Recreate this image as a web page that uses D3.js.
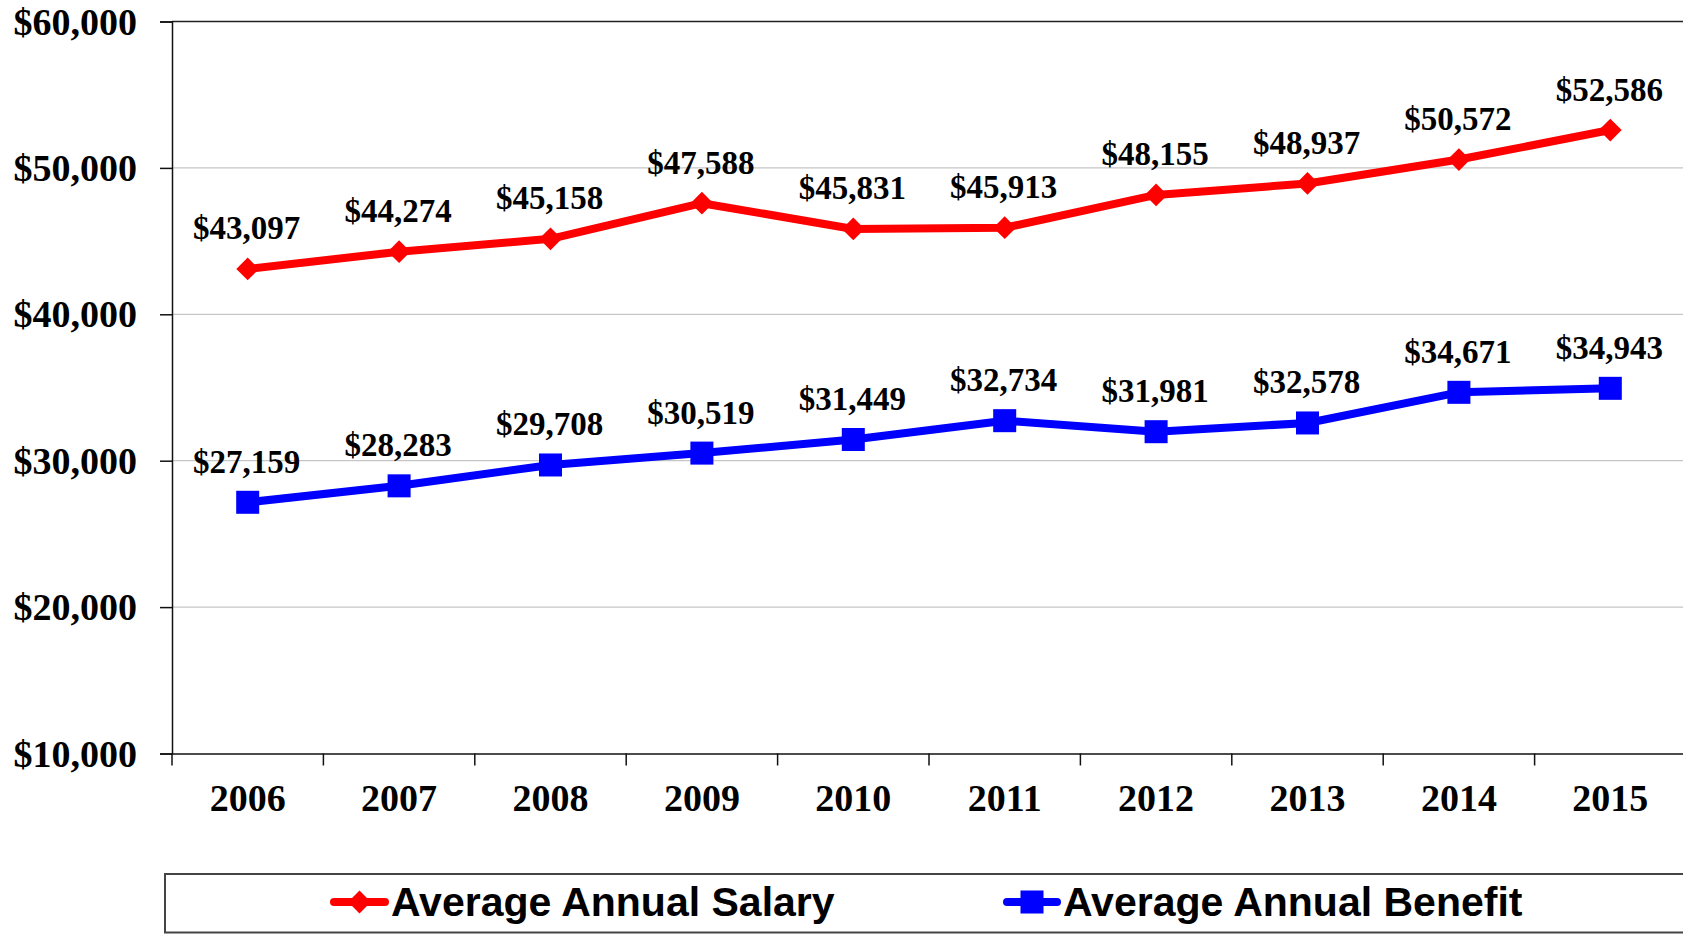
<!DOCTYPE html>
<html>
<head>
<meta charset="utf-8">
<script src="https://cdn.jsdelivr.net/npm/d3@7"></script>
<style>
  html, body { margin: 0; padding: 0; background: #fff; overflow: hidden; }
  svg { display: block; }
  .serif { font-family: "Liberation Serif", "Times New Roman", serif; font-weight: bold; }
</style>
</head>
<body>
<script>
  var years = ['2006', '2007', '2008', '2009', '2010', '2011', '2012', '2013', '2014', '2015'];
  var salary = [43097, 44274, 45158, 47588, 45831, 45913, 48155, 48937, 50572, 52586];
  var benefit = [27159, 28283, 29708, 30519, 31449, 32734, 31981, 32578, 34671, 34943];
  var yTicks = [10000, 20000, 30000, 40000, 50000, 60000];
  var seriesNames = ['Average Annual Salary', 'Average Annual Benefit'];

  var width = 1683, height = 934;
  var margin = { left: 172, top: 21.5 };
  var plotW = 1514, plotH = 732;

  var svg = d3.select('body').append('svg')
    .attr('width', width)
    .attr('height', height);

  var g = svg.append('g')
    .attr('transform', 'translate(' + margin.left + ',' + margin.top + ')');

  var x = d3.scaleBand().domain(years).range([0, plotW]);
  var y = d3.scaleLinear().domain([10000, 60000]).range([plotH, 0]);
  var fmt = d3.format('$,');

  // gridlines
  g.selectAll('line.grid')
    .data(yTicks.slice(1, -1))
    .enter().append('line')
    .attr('class', 'grid')
    .attr('x1', 0).attr('x2', plotW)
    .attr('y1', function(d) { return y(d); })
    .attr('y2', function(d) { return y(d); })
    .attr('stroke', '#c6c6c6')
    .attr('stroke-width', 1.2);

  // top border
  g.append('line')
    .attr('x1', 0).attr('x2', plotW)
    .attr('y1', 0).attr('y2', 0)
    .attr('stroke', '#222').attr('stroke-width', 1.5);

  // y axis
  var yAxis = g.append('g')
    .call(d3.axisLeft(y).tickValues(yTicks).tickSize(12).tickPadding(23).tickFormat(fmt));
  yAxis.select('.domain').attr('stroke', '#111').attr('stroke-width', 1.5);
  yAxis.selectAll('.tick line').attr('stroke', '#111').attr('stroke-width', 1.5);
  yAxis.selectAll('text')
    .attr('class', 'serif')
    .attr('font-size', 38)
    .attr('fill', '#000')
    .attr('dy', '0.33em');

  // x axis: labels centered in bands, ticks on band edges
  var xAxis = g.append('g')
    .attr('transform', 'translate(0,' + plotH + ')')
    .call(d3.axisBottom(x).tickSize(0).tickPadding(0));
  xAxis.select('.domain').attr('stroke', '#111').attr('stroke-width', 1.5);
  xAxis.selectAll('text')
    .attr('class', 'serif')
    .attr('font-size', 38)
    .attr('fill', '#000')
    .attr('dy', null)
    .attr('y', 57.5);

  var edges = years.map(function(d) { return x(d); }).concat([plotW]);
  xAxis.selectAll('line.edge')
    .data(edges)
    .enter().append('line')
    .attr('class', 'edge')
    .attr('x1', function(d) { return d; })
    .attr('x2', function(d) { return d; })
    .attr('y1', 0).attr('y2', 12)
    .attr('stroke', '#111').attr('stroke-width', 1.5);

  var cx = function(d, i) { return x(years[i]) + x.bandwidth() / 2; };

  var line = d3.line()
    .x(function(d, i) { return cx(d, i); })
    .y(function(d) { return y(d); });

  var series = [
    { name: seriesNames[0], values: salary, color: '#ff0000', marker: d3.symbolDiamond2, size: 330 },
    { name: seriesNames[1], values: benefit, color: '#0000ff', marker: d3.symbolSquare, size: 530 }
  ];

  series.forEach(function(s) {
    var layer = g.append('g');

    layer.append('path')
      .datum(s.values)
      .attr('d', line)
      .attr('fill', 'none')
      .attr('stroke', s.color)
      .attr('stroke-width', 8)
      .attr('stroke-linejoin', 'round');

    layer.selectAll('path.marker')
      .data(s.values)
      .enter().append('path')
      .attr('class', 'marker')
      .attr('d', d3.symbol().type(s.marker).size(s.size))
      .attr('transform', function(d, i) {
        return 'translate(' + cx(d, i) + ',' + y(d) + ')';
      })
      .attr('fill', s.color);

    layer.selectAll('text.label')
      .data(s.values)
      .enter().append('text')
      .attr('class', 'serif')
      .attr('x', function(d, i) { return cx(d, i) - 1; })
      .attr('y', function(d) { return y(d) - 29.5; })
      .attr('text-anchor', 'middle')
      .attr('font-size', 33)
      .attr('fill', '#000')
      .text(function(d) { return fmt(d); });
  });

  // legend
  var legend = svg.append('g');
  legend.append('rect')
    .attr('x', 165).attr('y', 874)
    .attr('width', 1560).attr('height', 58.5)
    .attr('fill', 'none')
    .attr('stroke', '#444')
    .attr('stroke-width', 2);

  var legendItems = [
    { s: series[0], x0: 330, x1: 389, tx: 391 },
    { s: series[1], x0: 1003, x1: 1061, tx: 1063 }
  ];

  legendItems.forEach(function(item) {
    var ly = 902;
    legend.append('line')
      .attr('x1', item.x0 + 4).attr('x2', item.x1 - 4)
      .attr('y1', ly).attr('y2', ly)
      .attr('stroke', item.s.color)
      .attr('stroke-width', 8)
      .attr('stroke-linecap', 'round');
    legend.append('path')
      .attr('d', d3.symbol().type(item.s.marker).size(item.s.size))
      .attr('transform', 'translate(' + ((item.x0 + item.x1) / 2) + ',' + ly + ')')
      .attr('fill', item.s.color);
    legend.append('text')
      .attr('x', item.tx)
      .attr('y', 916)
      .attr('font-family', '"Liberation Sans", Arial, sans-serif')
      .attr('font-weight', 'bold')
      .attr('font-size', 41)
      .attr('fill', '#000')
      .text(item.s.name);
  });
</script>
</body>
</html>
